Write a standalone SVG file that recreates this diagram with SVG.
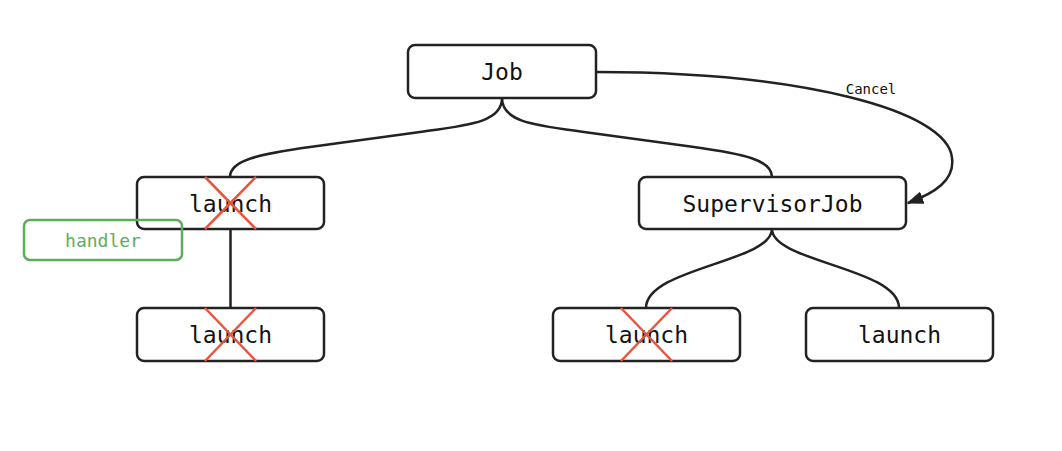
<svg xmlns="http://www.w3.org/2000/svg" width="1062" height="451" viewBox="0 0 1062 451">
<style>
.box{fill:#fff;stroke:#222;stroke-width:2.5}
.t{font-family:"DejaVu Sans Mono","Liberation Mono",monospace;font-size:23px;fill:#111;text-anchor:middle;dominant-baseline:central}
.c{fill:none;stroke:#222;stroke-width:2.5}
.x{stroke:#e5553f;stroke-width:2.5}
.lbl{font-family:"DejaVu Sans Mono","Liberation Mono",monospace;font-size:14px;fill:#111;text-anchor:middle;dominant-baseline:central}
</style>
<defs>
<marker id="ah" viewBox="0 0 10 10" refX="9" refY="5" markerWidth="17" markerHeight="13" orient="auto" markerUnits="userSpaceOnUse" preserveAspectRatio="none">
<path d="M0,0 L10,5 L0,10 z" fill="#222"/>
</marker>
</defs>
<rect width="1062" height="451" fill="#fff"/>
<g id="connectors">
<path class="c" d="M502,98 C502,122 470,125 420,132 L310,147 C260,154 230,160 230,177"/>
<path class="c" d="M502,98 C502,122 534,125 584,132 L694,147 C744,154 772,160 772,177"/>
<path class="c" d="M230.5,229 L230.5,308"/>
<path class="c" d="M772,229 C772,262 646,268 646,308"/>
<path class="c" d="M772,229 C772,262 899,268 899,308"/>
<path class="c" d="M596,72 C800,72 948,110 952,158 C955,180 935,193 908,203" marker-end="url(#ah)"/>
<text class="lbl" x="871" y="89">Cancel</text>
</g>
<g id="job"><rect class="box" x="408" y="45" width="188" height="53" rx="7"/><text class="t" x="502" y="72">Job</text></g>
<g id="launch1"><rect class="box" x="137" y="177" width="187" height="52" rx="7"/><text class="t" x="230.5" y="204">launch</text></g>
<g id="supervisor"><rect class="box" x="639" y="177" width="267" height="52" rx="7"/><text class="t" x="772.5" y="204">SupervisorJob</text></g>
<g id="launch2"><rect class="box" x="137" y="308" width="187" height="53" rx="7"/><text class="t" x="230.5" y="335">launch</text></g>
<g id="launch3"><rect class="box" x="553" y="308" width="187" height="53" rx="7"/><text class="t" x="646.5" y="335">launch</text></g>
<g id="launch4"><rect class="box" x="806" y="308" width="187" height="53" rx="7"/><text class="t" x="899.5" y="335">launch</text></g>
<g id="handler"><rect x="24" y="220" width="158" height="40" rx="6" fill="#fff" fill-opacity="0" stroke="#5cae5c" stroke-width="2.5"/><text x="103" y="240" font-family="DejaVu Sans Mono,Liberation Mono,monospace" font-size="18" fill="#5cae5c" text-anchor="middle" dominant-baseline="central">handler</text></g>
<g id="cross1"><line class="x" x1="205" y1="177" x2="256" y2="229"/><line class="x" x1="256" y1="177" x2="205" y2="229"/></g>
<g id="cross2"><line class="x" x1="205" y1="308" x2="256" y2="361"/><line class="x" x1="256" y1="308" x2="205" y2="361"/></g>
<g id="cross3"><line class="x" x1="621" y1="308" x2="672" y2="361"/><line class="x" x1="672" y1="308" x2="621" y2="361"/></g>
</svg>
